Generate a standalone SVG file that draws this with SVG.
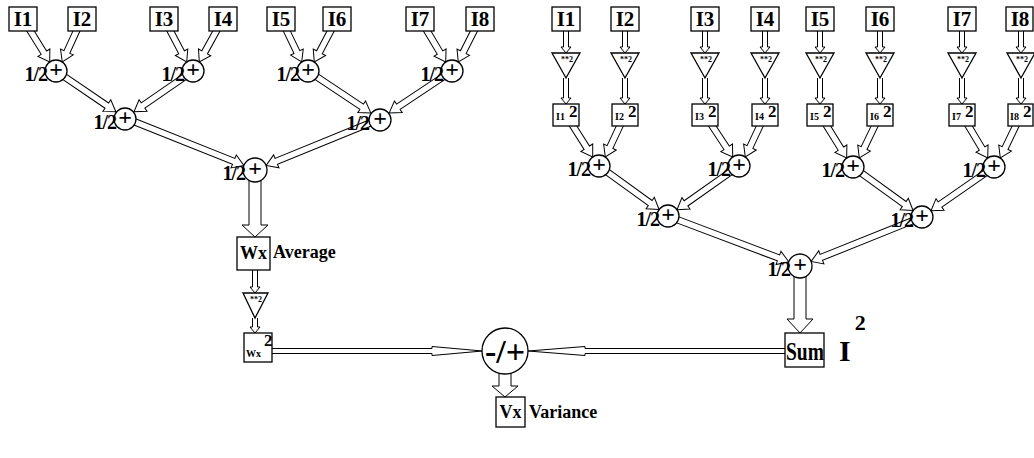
<svg xmlns="http://www.w3.org/2000/svg" width="1034" height="458" viewBox="0 0 1034 458">
  <style>
    .box { fill: #fff; stroke: #000; stroke-width: 1.3; }
    .node { fill: #fff; stroke: #000; stroke-width: 1.3; }
    .arr { fill: #fff; stroke: #000; stroke-width: 1; stroke-linejoin: miter; }
    .t { font-family: "Liberation Serif", "Times New Roman", serif; font-weight: bold; fill: #000; }
    .in { font-size: 21px; text-anchor: middle; }
    .half { font-size: 20px; text-anchor: end; letter-spacing: -1px; }
    .plus { font-size: 24px; text-anchor: middle; }
    .pow { font-size: 8px; text-anchor: middle; }
    .sq { font-size: 10px; }
    .sup { font-size: 17px; }
    .lbl { font-size: 18px; }
  </style>
  <rect width="1034" height="458" fill="#fff"/>

  <!-- connectors: hollow arrows, drawn first so nodes sit on top -->
  <g id="connectors">
    <!-- average tree: inputs to first adders -->
    <path class="arr" transform="translate(49.7,62) rotate(58.2)" d="M-50.6,-3.2 H-11 V-7 L0,0 L-11,7 V3.2 H-50.6"/>
    <path class="arr" transform="translate(62.3,62) rotate(114.6)" d="M-47.3,-3.2 H-11 V-7 L0,0 L-11,7 V3.2 H-47.3"/>
    <path class="arr" transform="translate(186.7,62) rotate(62.2)" d="M-48.6,-3.2 H-11 V-7 L0,0 L-11,7 V3.2 H-48.6"/>
    <path class="arr" transform="translate(199.3,62) rotate(118.9)" d="M-49.1,-3.2 H-11 V-7 L0,0 L-11,7 V3.2 H-49.1"/>
    <path class="arr" transform="translate(301.7,62) rotate(64.3)" d="M-47.7,-3.2 H-11 V-7 L0,0 L-11,7 V3.2 H-47.7"/>
    <path class="arr" transform="translate(314.3,62) rotate(117.8)" d="M-48.6,-3.2 H-11 V-7 L0,0 L-11,7 V3.2 H-48.6"/>
    <path class="arr" transform="translate(445.7,62) rotate(59.1)" d="M-50.1,-3.2 H-11 V-7 L0,0 L-11,7 V3.2 H-50.1"/>
    <path class="arr" transform="translate(458.3,62) rotate(116.8)" d="M-48.2,-3.2 H-11 V-7 L0,0 L-11,7 V3.2 H-48.2"/>
    <!-- average tree: second level -->
    <path class="arr" transform="translate(115.9,111.8) rotate(34.3)" d="M-72.5,-3.2 H-11 V-7 L0,0 L-11,7 V3.2 H-72.5"/>
    <path class="arr" transform="translate(134,111.7) rotate(145.4)" d="M-71.7,-3.2 H-11 V-7 L0,0 L-11,7 V3.2 H-71.7"/>
    <path class="arr" transform="translate(370.8,112.9) rotate(33.7)" d="M-75.5,-3.2 H-11 V-7 L0,0 L-11,7 V3.2 H-75.5"/>
    <path class="arr" transform="translate(389.2,112.9) rotate(146.3)" d="M-75.5,-3.2 H-11 V-7 L0,0 L-11,7 V3.2 H-75.5"/>
    <!-- average tree: root -->
    <path class="arr" transform="translate(243.9,165.5) rotate(21.8)" d="M-128,-3.2 H-11 V-7 L0,0 L-11,7 V3.2 H-128"/>
    <path class="arr" transform="translate(266.1,165.5) rotate(157.8)" d="M-123,-3.2 H-11 V-7 L0,0 L-11,7 V3.2 H-123"/>
    <!-- root to Wx, Wx through squarer to Wx^2 -->
    <path class="arr" d="M249,176 V225 H242 L255,237 L268,225 H261 V176"/>
    <path class="arr" d="M252.5,268 V287 H250 L255,293 L260,287 H257.5 V268"/>
    <path class="arr" d="M252.5,318 V327 H250 L255,333 L260,327 H257.5 V318"/>

    <!-- sum-of-squares tree: inputs to squarers -->
    <path class="arr" d="M563.5,28 V47 H561 L566,53 L571,47 H568.5 V28"/>
    <path class="arr" d="M622.5,28 V47 H620 L625,53 L630,47 H627.5 V28"/>
    <path class="arr" d="M702.5,28 V47 H700 L705,53 L710,47 H707.5 V28"/>
    <path class="arr" d="M762.5,28 V47 H760 L765,53 L770,47 H767.5 V28"/>
    <path class="arr" d="M817.5,28 V47 H815 L820,53 L825,47 H822.5 V28"/>
    <path class="arr" d="M877.5,28 V47 H875 L880,53 L885,47 H882.5 V28"/>
    <path class="arr" d="M959.5,28 V47 H957 L962,53 L967,47 H964.5 V28"/>
    <path class="arr" d="M1018.5,28 V47 H1016 L1021,53 L1026,47 H1023.5 V28"/>
    <!-- squarers to squared values -->
    <path class="arr" d="M563.5,78 V98 H561 L566,104 L571,98 H568.5 V78"/>
    <path class="arr" d="M622.5,78 V98 H620 L625,104 L630,98 H627.5 V78"/>
    <path class="arr" d="M702.5,78 V98 H700 L705,104 L710,98 H707.5 V78"/>
    <path class="arr" d="M762.5,78 V98 H760 L765,104 L770,98 H767.5 V78"/>
    <path class="arr" d="M817.5,78 V98 H815 L820,104 L825,98 H822.5 V78"/>
    <path class="arr" d="M877.5,78 V98 H875 L880,104 L885,98 H882.5 V78"/>
    <path class="arr" d="M959.5,78 V98 H957 L962,104 L967,98 H964.5 V78"/>
    <path class="arr" d="M1018.5,78 V98 H1016 L1021,104 L1026,98 H1023.5 V78"/>
    <!-- squared values to first adders -->
    <path class="arr" transform="translate(592.7,157) rotate(57.6)" d="M-49.8,-3.2 H-11 V-7 L0,0 L-11,7 V3.2 H-49.8"/>
    <path class="arr" transform="translate(605.3,157) rotate(115.1)" d="M-46.4,-3.2 H-11 V-7 L0,0 L-11,7 V3.2 H-46.4"/>
    <path class="arr" transform="translate(732.7,157) rotate(56.6)" d="M-50.3,-3.2 H-11 V-7 L0,0 L-11,7 V3.2 H-50.3"/>
    <path class="arr" transform="translate(745.3,157) rotate(115.1)" d="M-46.4,-3.2 H-11 V-7 L0,0 L-11,7 V3.2 H-46.4"/>
    <path class="arr" transform="translate(846.7,158) rotate(58.2)" d="M-50.6,-3.2 H-11 V-7 L0,0 L-11,7 V3.2 H-50.6"/>
    <path class="arr" transform="translate(859.3,158) rotate(115.7)" d="M-47.7,-3.2 H-11 V-7 L0,0 L-11,7 V3.2 H-47.7"/>
    <path class="arr" transform="translate(987.7,158) rotate(59.1)" d="M-50.1,-3.2 H-11 V-7 L0,0 L-11,7 V3.2 H-50.1"/>
    <path class="arr" transform="translate(1000.3,158) rotate(115.7)" d="M-47.7,-3.2 H-11 V-7 L0,0 L-11,7 V3.2 H-47.7"/>
    <!-- second level -->
    <path class="arr" transform="translate(659.1,209.5) rotate(35.9)" d="M-74.2,-3.2 H-11 V-7 L0,0 L-11,7 V3.2 H-74.2"/>
    <path class="arr" transform="translate(677,209.7) rotate(144.8)" d="M-75.8,-3.2 H-11 V-7 L0,0 L-11,7 V3.2 H-75.8"/>
    <path class="arr" transform="translate(913.1,210.5) rotate(35.9)" d="M-74.2,-3.2 H-11 V-7 L0,0 L-11,7 V3.2 H-74.2"/>
    <path class="arr" transform="translate(931,210.7) rotate(145.2)" d="M-76.7,-3.2 H-11 V-7 L0,0 L-11,7 V3.2 H-76.7"/>
    <!-- root -->
    <path class="arr" transform="translate(788.8,261.8) rotate(20.7)" d="M-129.2,-3.2 H-11 V-7 L0,0 L-11,7 V3.2 H-129.2"/>
    <path class="arr" transform="translate(811.1,261.5) rotate(158.1)" d="M-119.5,-3.2 H-11 V-7 L0,0 L-11,7 V3.2 H-119.5"/>
    <path class="arr" d="M794,272 V319 H787 L800,333 L813,319 H806 V272"/>

    <!-- into the subtractor and out to the variance -->
    <path class="arr" d="M268,348.5 H432 V346.5 L482.5,351 L432,355.5 V353.5 H268"/>
    <path class="arr" d="M790,348.5 H585 V346.5 L528,351 L585,355.5 V353.5 H790"/>
    <path class="arr" d="M499,370 V386 H492 L505,397 L518,386 H511 V370"/>
  </g>

  <!-- average tree -->
  <g id="avg-I1"><rect class="box" x="9" y="7" width="28" height="24"/><text class="t in" x="23" y="26">I1</text></g>
  <g id="avg-I2"><rect class="box" x="68" y="7" width="28" height="24"/><text class="t in" x="82" y="26">I2</text></g>
  <g id="avg-I3"><rect class="box" x="150" y="7" width="28" height="24"/><text class="t in" x="164" y="26">I3</text></g>
  <g id="avg-I4"><rect class="box" x="209" y="7" width="28" height="24"/><text class="t in" x="223" y="26">I4</text></g>
  <g id="avg-I5"><rect class="box" x="267" y="7" width="28" height="24"/><text class="t in" x="281" y="26">I5</text></g>
  <g id="avg-I6"><rect class="box" x="323" y="7" width="28" height="24"/><text class="t in" x="337" y="26">I6</text></g>
  <g id="avg-I7"><rect class="box" x="406" y="7" width="28" height="24"/><text class="t in" x="420" y="26">I7</text></g>
  <g id="avg-I8"><rect class="box" x="466" y="7" width="28" height="24"/><text class="t in" x="480" y="26">I8</text></g>

  <g id="avg-add-1"><circle class="node" cx="56" cy="71" r="11"/><text class="t plus" x="56" y="77">+</text><text class="t half" x="47" y="81">1/2</text></g>
  <g id="avg-add-2"><circle class="node" cx="193" cy="71" r="11"/><text class="t plus" x="193" y="77">+</text><text class="t half" x="184" y="81">1/2</text></g>
  <g id="avg-add-3"><circle class="node" cx="308" cy="71" r="11"/><text class="t plus" x="308" y="77">+</text><text class="t half" x="299" y="81">1/2</text></g>
  <g id="avg-add-4"><circle class="node" cx="452" cy="71" r="11"/><text class="t plus" x="452" y="77">+</text><text class="t half" x="443" y="81">1/2</text></g>
  <g id="avg-add-5"><circle class="node" cx="125" cy="119" r="11"/><text class="t plus" x="125" y="125">+</text><text class="t half" x="116" y="129">1/2</text></g>
  <g id="avg-add-6"><circle class="node" cx="380" cy="120" r="11"/><text class="t plus" x="380" y="126">+</text><text class="t half" x="369" y="130">1/2</text></g>
  <g id="avg-add-7"><circle class="node" cx="255" cy="170" r="12"/><text class="t plus" x="255" y="176">+</text><text class="t half" x="245" y="180">1/2</text></g>

  <g id="wx"><rect class="box" x="237" y="237" width="33" height="33"/><text class="t lbl" x="253.5" y="259" text-anchor="middle">Wx</text><text class="t lbl" x="273" y="258">Average</text></g>
  <g id="wx-square"><polygon class="node" points="243,293 268,293 255,318"/><text class="t pow" x="256" y="302">**2</text></g>
  <g id="wx2"><rect class="box" x="244" y="333" width="28" height="29"/><text class="t sq" x="246" y="357">Wx</text><text class="t sup" x="264" y="346">2</text></g>

  <!-- sum-of-squares tree -->
  <g id="sq-I1"><rect class="box" x="552" y="7" width="28" height="24"/><text class="t in" x="566" y="26">I1</text></g>
  <g id="sq-I2"><rect class="box" x="611" y="7" width="28" height="24"/><text class="t in" x="625" y="26">I2</text></g>
  <g id="sq-I3"><rect class="box" x="691" y="7" width="28" height="24"/><text class="t in" x="705" y="26">I3</text></g>
  <g id="sq-I4"><rect class="box" x="751" y="7" width="28" height="24"/><text class="t in" x="765" y="26">I4</text></g>
  <g id="sq-I5"><rect class="box" x="806" y="7" width="28" height="24"/><text class="t in" x="820" y="26">I5</text></g>
  <g id="sq-I6"><rect class="box" x="866" y="7" width="28" height="24"/><text class="t in" x="880" y="26">I6</text></g>
  <g id="sq-I7"><rect class="box" x="948" y="7" width="28" height="24"/><text class="t in" x="962" y="26">I7</text></g>
  <g id="sq-I8"><rect class="box" x="1006" y="7" width="27" height="24"/><text class="t in" x="1020" y="26">I8</text></g>

  <g id="sq-pow-1"><polygon class="node" points="552,53 580,53 566,78"/><text class="t pow" x="567" y="62">**2</text></g>
  <g id="sq-pow-2"><polygon class="node" points="611,53 639,53 625,78"/><text class="t pow" x="626" y="62">**2</text></g>
  <g id="sq-pow-3"><polygon class="node" points="691,53 719,53 705,78"/><text class="t pow" x="706" y="62">**2</text></g>
  <g id="sq-pow-4"><polygon class="node" points="751,53 779,53 765,78"/><text class="t pow" x="766" y="62">**2</text></g>
  <g id="sq-pow-5"><polygon class="node" points="806,53 834,53 820,78"/><text class="t pow" x="821" y="62">**2</text></g>
  <g id="sq-pow-6"><polygon class="node" points="866,53 894,53 880,78"/><text class="t pow" x="881" y="62">**2</text></g>
  <g id="sq-pow-7"><polygon class="node" points="948,53 976,53 962,78"/><text class="t pow" x="963" y="62">**2</text></g>
  <g id="sq-pow-8"><polygon class="node" points="1007,53 1035,53 1021,78"/><text class="t pow" x="1022" y="62">**2</text></g>

  <g id="sq-I1sq"><rect class="box" x="553" y="104" width="26" height="22"/><text class="t sq" x="556" y="120">I1</text><text class="t sup" x="569" y="117">2</text></g>
  <g id="sq-I2sq"><rect class="box" x="612" y="104" width="26" height="22"/><text class="t sq" x="615" y="120">I2</text><text class="t sup" x="628" y="117">2</text></g>
  <g id="sq-I3sq"><rect class="box" x="692" y="104" width="26" height="22"/><text class="t sq" x="695" y="120">I3</text><text class="t sup" x="708" y="117">2</text></g>
  <g id="sq-I4sq"><rect class="box" x="752" y="104" width="26" height="22"/><text class="t sq" x="755" y="120">I4</text><text class="t sup" x="768" y="117">2</text></g>
  <g id="sq-I5sq"><rect class="box" x="807" y="104" width="26" height="22"/><text class="t sq" x="810" y="120">I5</text><text class="t sup" x="823" y="117">2</text></g>
  <g id="sq-I6sq"><rect class="box" x="867" y="104" width="26" height="22"/><text class="t sq" x="870" y="120">I6</text><text class="t sup" x="883" y="117">2</text></g>
  <g id="sq-I7sq"><rect class="box" x="949" y="104" width="26" height="22"/><text class="t sq" x="952" y="120">I7</text><text class="t sup" x="965" y="117">2</text></g>
  <g id="sq-I8sq"><rect class="box" x="1008" y="104" width="25" height="22"/><text class="t sq" x="1010" y="120">I8</text><text class="t sup" x="1023" y="117">2</text></g>

  <g id="sq-add-1"><circle class="node" cx="599" cy="166" r="11"/><text class="t plus" x="599" y="172">+</text><text class="t half" x="590" y="176">1/2</text></g>
  <g id="sq-add-2"><circle class="node" cx="739" cy="166" r="11"/><text class="t plus" x="739" y="172">+</text><text class="t half" x="730" y="176">1/2</text></g>
  <g id="sq-add-3"><circle class="node" cx="853" cy="167" r="11"/><text class="t plus" x="853" y="173">+</text><text class="t half" x="844" y="177">1/2</text></g>
  <g id="sq-add-4"><circle class="node" cx="994" cy="167" r="11"/><text class="t plus" x="994" y="173">+</text><text class="t half" x="985" y="177">1/2</text></g>
  <g id="sq-add-5"><circle class="node" cx="668" cy="216" r="11"/><text class="t plus" x="668" y="222">+</text><text class="t half" x="659" y="226">1/2</text></g>
  <g id="sq-add-6"><circle class="node" cx="922" cy="217" r="11"/><text class="t plus" x="922" y="223">+</text><text class="t half" x="913" y="227">1/2</text></g>
  <g id="sq-add-7"><circle class="node" cx="800" cy="266" r="12"/><text class="t plus" x="800" y="272">+</text><text class="t half" x="790" y="276">1/2</text></g>

  <g id="sum-i2"><rect class="box" x="785" y="333" width="39" height="34"/><text class="t" x="786" y="360" font-size="25" textLength="38" lengthAdjust="spacingAndGlyphs">Sum</text><text class="t" x="839" y="361" font-size="30">I<tspan dx="4" dy="-31" font-size="22">2</tspan></text></g>

  <!-- subtractor and result -->
  <g id="sub"><circle class="node" cx="505" cy="351" r="23"/><text class="t" x="505" y="363" font-size="34" text-anchor="middle">-/+</text></g>
  <g id="vx"><rect class="box" x="496" y="397" width="29" height="30"/><text class="t lbl" x="510.5" y="418" text-anchor="middle">Vx</text><text class="t lbl" x="529" y="418">Variance</text></g>
</svg>
